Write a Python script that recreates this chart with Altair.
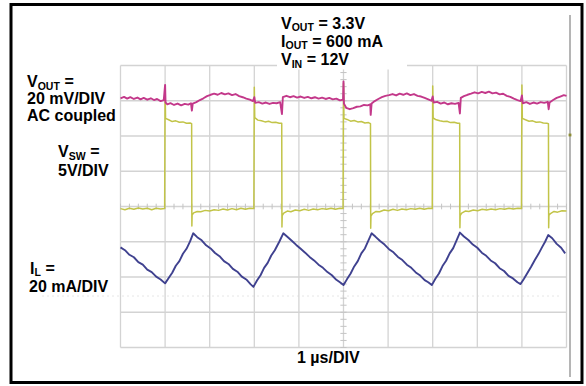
import altair as alt
import pandas as pd

# ---------------- data (scope screen: x in µs from left graticule edge, y in divisions from centre) ----
grid_time_div = [0, 1, 2, 3, 4, 5, 6, 7, 8, 9, 10]
grid_level_div = [-4, -3, -2, -1, 0, 1, 2, 3, 4]

vout_time = [0.00, 0.08, 0.15, 0.22, 0.30, 0.38, 0.45, 0.52, 0.60, 0.68, 0.75, 0.82, 0.90, 0.97,
             1.00, 1.01, 1.05, 1.12, 1.20, 1.28, 1.36, 1.44, 1.52, 1.58, 1.60, 1.62, 1.70, 1.78,
             1.86, 1.94, 2.02, 2.10, 2.18, 2.26, 2.34, 2.42, 2.50, 2.58, 2.66, 2.74, 2.82, 2.90,
             2.97, 3.00, 3.02, 3.10, 3.18, 3.26, 3.34, 3.42, 3.50, 3.58, 3.62, 3.64, 3.72, 3.80,
             3.88, 3.96, 4.04, 4.12, 4.20, 4.28, 4.36, 4.44, 4.52, 4.60, 4.68, 4.76, 4.84, 4.92,
             4.99, 5.00, 5.01, 5.06, 5.14, 5.22, 5.30, 5.38, 5.46, 5.54, 5.60, 5.61, 5.63, 5.70,
             5.78, 5.86, 5.94, 6.02, 6.10, 6.18, 6.26, 6.34, 6.42, 6.50, 6.58, 6.66, 6.74, 6.82,
             6.90, 6.97, 7.00, 7.02, 7.10, 7.18, 7.26, 7.34, 7.42, 7.50, 7.58, 7.61, 7.63, 7.70,
             7.78, 7.86, 7.94, 8.02, 8.10, 8.18, 8.26, 8.34, 8.42, 8.50, 8.58, 8.66, 8.74, 8.82,
             8.90, 8.97, 9.00, 9.02, 9.10, 9.18, 9.26, 9.34, 9.42, 9.50, 9.58, 9.60, 9.62, 9.70,
             9.78, 9.86, 9.94, 10.00]
vout_div = [3.07, 3.11, 3.06, 3.10, 3.05, 3.09, 3.04, 3.08, 3.03, 3.07, 3.02, 3.05, 2.99, 3.02,
            3.45, 2.95, 2.90, 2.93, 2.88, 2.92, 2.87, 2.91, 2.89, 2.93, 2.72, 2.92, 2.96, 3.02,
            3.07, 3.13, 3.17, 3.20, 3.17, 3.22, 3.18, 3.21, 3.16, 3.19, 3.13, 3.10, 3.06, 3.03,
            2.99, 3.10, 2.94, 2.96, 2.92, 2.95, 2.91, 2.94, 2.93, 2.96, 2.62, 3.10, 3.14, 3.10,
            3.13, 3.09, 3.12, 3.08, 3.11, 3.07, 3.10, 3.06, 3.09, 3.05, 3.08, 3.04, 3.06, 3.01,
            3.03, 3.55, 2.92, 2.80, 2.76, 2.79, 2.83, 2.84, 2.88, 2.87, 2.90, 2.60, 2.92, 2.99,
            3.05, 3.10, 3.14, 3.16, 3.19, 3.15, 3.20, 3.17, 3.21, 3.16, 3.19, 3.14, 3.12, 3.08,
            3.04, 3.00, 3.12, 2.95, 2.97, 2.92, 2.95, 2.90, 2.93, 2.91, 2.94, 2.64, 3.08, 3.13,
            3.17, 3.20, 3.24, 3.21, 3.25, 3.22, 3.26, 3.21, 3.23, 3.18, 3.20, 3.14, 3.11, 3.06,
            3.02, 2.99, 3.15, 2.93, 2.96, 2.91, 2.95, 2.92, 2.96, 2.94, 2.97, 2.76, 2.95, 3.02,
            3.08, 3.12, 3.16, 3.14]

vsw_time = [0.00, 0.10, 0.20, 0.30, 0.40, 0.50, 0.60, 0.70, 0.80, 0.90, 0.99,
            1.00, 1.01, 1.08, 1.16, 1.24, 1.32, 1.40, 1.48, 1.56, 1.595, 1.600, 1.606, 1.64, 1.72,
            1.80, 1.90, 2.00, 2.10, 2.20, 2.30, 2.40, 2.50, 2.60, 2.70, 2.80, 2.90, 2.99,
            3.00, 3.01, 3.08, 3.16, 3.24, 3.32, 3.40, 3.48, 3.56, 3.615, 3.620, 3.626, 3.66, 3.74,
            3.82, 3.92, 4.02, 4.12, 4.22, 4.32, 4.42, 4.52, 4.62, 4.72, 4.82, 4.92, 4.99,
            5.00, 5.01, 5.08, 5.16, 5.24, 5.32, 5.40, 5.48, 5.56, 5.605, 5.610, 5.616, 5.65, 5.73,
            5.81, 5.91, 6.01, 6.11, 6.21, 6.31, 6.41, 6.51, 6.61, 6.71, 6.81, 6.91, 6.99,
            7.00, 7.01, 7.08, 7.16, 7.24, 7.32, 7.40, 7.48, 7.56, 7.605, 7.610, 7.616, 7.65, 7.73,
            7.81, 7.91, 8.01, 8.11, 8.21, 8.31, 8.41, 8.51, 8.61, 8.71, 8.81, 8.91, 8.99,
            9.00, 9.01, 9.08, 9.16, 9.24, 9.32, 9.40, 9.48, 9.56, 9.595, 9.600, 9.606, 9.64, 9.72,
            9.80, 9.90, 10.00]
vsw_div = [-0.06, -0.09, -0.05, -0.08, -0.04, -0.07, -0.05, -0.09, -0.05, -0.07, -0.06,
           3.40, 2.50, 2.46, 2.41, 2.43, 2.39, 2.40, 2.36, 2.37, 2.35, -0.55, -0.24, -0.18, -0.14,
           -0.15, -0.11, -0.13, -0.09, -0.11, -0.07, -0.10, -0.06, -0.09, -0.05, -0.08, -0.05, -0.06,
           3.38, 2.52, 2.45, 2.43, 2.40, 2.42, 2.38, 2.39, 2.36, 2.36, -0.58, -0.26, -0.19, -0.13,
           -0.15, -0.10, -0.12, -0.08, -0.11, -0.07, -0.09, -0.06, -0.08, -0.05, -0.08, -0.05, -0.06,
           3.50, 2.50, 2.47, 2.42, 2.44, 2.40, 2.41, 2.37, 2.38, 2.35, -0.62, -0.27, -0.20, -0.14,
           -0.15, -0.10, -0.12, -0.08, -0.11, -0.07, -0.09, -0.06, -0.08, -0.05, -0.08, -0.05, -0.06,
           3.42, 2.51, 2.46, 2.43, 2.41, 2.42, 2.38, 2.39, 2.36, 2.36, -0.60, -0.26, -0.19, -0.13,
           -0.14, -0.10, -0.12, -0.08, -0.10, -0.07, -0.09, -0.06, -0.08, -0.05, -0.07, -0.05, -0.06,
           3.45, 2.50, 2.46, 2.42, 2.43, 2.39, 2.40, 2.37, 2.36, 2.35, -0.60, -0.25, -0.20, -0.14,
           -0.16, -0.12, -0.13]

il_time = [0.00, 0.10, 0.20, 0.30, 0.40, 0.50, 0.60, 0.70, 0.80, 0.90, 1.00,
           1.08, 1.16, 1.24, 1.32, 1.40, 1.48, 1.56, 1.63,
           1.72, 1.82, 1.92, 2.02, 2.12, 2.22, 2.32, 2.42, 2.52, 2.62, 2.72, 2.82, 2.92, 2.98,
           3.06, 3.14, 3.22, 3.30, 3.38, 3.46, 3.56, 3.65,
           3.74, 3.84, 3.94, 4.04, 4.14, 4.24, 4.34, 4.44, 4.54, 4.64, 4.74, 4.84, 4.92, 5.00,
           5.08, 5.16, 5.24, 5.32, 5.40, 5.48, 5.56, 5.63,
           5.72, 5.82, 5.92, 6.02, 6.12, 6.22, 6.32, 6.42, 6.52, 6.62, 6.72, 6.82, 6.90, 6.98,
           7.06, 7.14, 7.22, 7.30, 7.38, 7.46, 7.54, 7.61,
           7.70, 7.80, 7.90, 8.00, 8.10, 8.20, 8.30, 8.40, 8.50, 8.60, 8.70, 8.80, 8.90, 8.97,
           9.05, 9.13, 9.21, 9.29, 9.37, 9.45, 9.52, 9.59,
           9.68, 9.78, 9.88, 9.97]
il_div = [-1.16, -1.24, -1.37, -1.44, -1.58, -1.65, -1.79, -1.86, -1.99, -2.07, -2.18,
          -2.03, -1.88, -1.68, -1.55, -1.34, -1.20, -0.99, -0.76,
          -0.87, -0.96, -1.10, -1.19, -1.32, -1.41, -1.55, -1.63, -1.77, -1.85, -1.99, -2.07, -2.21, -2.28,
          -2.10, -1.95, -1.74, -1.60, -1.39, -1.24, -1.00, -0.76,
          -0.86, -0.97, -1.09, -1.20, -1.31, -1.43, -1.53, -1.65, -1.74, -1.86, -1.95, -2.08, -2.15, -2.23,
          -2.06, -1.90, -1.70, -1.55, -1.33, -1.19, -0.96, -0.76,
          -0.86, -0.98, -1.08, -1.21, -1.30, -1.43, -1.52, -1.65, -1.74, -1.87, -1.96, -2.09, -2.15, -2.23,
          -2.05, -1.90, -1.69, -1.54, -1.33, -1.18, -0.95, -0.74,
          -0.85, -0.95, -1.08, -1.17, -1.31, -1.40, -1.53, -1.61, -1.75, -1.83, -1.97, -2.04, -2.15, -2.20,
          -2.04, -1.87, -1.70, -1.52, -1.35, -1.16, -1.00, -0.81,
          -0.90, -1.06, -1.17, -1.33]

# ---------------- styling -------------------------------------------------------------
FONT = "Liberation Sans"
GRID = "#d3d3d3"
C_VOUT = "#c3388a"
C_VSW = "#c2c448"
C_IL = "#3f418f"

# canvas 586x386 mapped so that the 10x8 graticule sits where the scope screen is
xs = alt.Scale(domain=[-2.7018, 10.4372], nice=False, zero=False)
ys = alt.Scale(domain=[-5.0922, 5.8582], nice=False, zero=False)


def X(f):
    return alt.X(f, type="quantitative", scale=xs, axis=None)


def Y(f):
    return alt.Y(f, type="quantitative", scale=ys, axis=None)


one = pd.DataFrame({"k": [0]})

vgrid = alt.Chart(pd.DataFrame({"t": grid_time_div, "a": -4, "b": 4})).mark_rule(
    color=GRID, strokeWidth=1.3).encode(x=X("t"), y=Y("a"), y2="b")
hgrid = alt.Chart(pd.DataFrame({"d": grid_level_div, "a": 0, "b": 10})).mark_rule(
    color=GRID, strokeWidth=1.3).encode(y=Y("d"), x=X("a"), x2="b")

minor_levels = [round(-4 + 0.2 * i, 2) for i in range(41)]
minor_times = [round(0.2 * i, 2) for i in range(51)]
vminor = alt.Chart(pd.DataFrame({"d": minor_levels, "a": 4.93, "b": 5.07})).mark_rule(
    color="#c4c4c4", strokeWidth=1).encode(y=Y("d"), x=X("a"), x2="b")
hminor = alt.Chart(pd.DataFrame({"t": minor_times, "a": -0.08, "b": 0.08})).mark_rule(
    color="#c4c4c4", strokeWidth=1).encode(x=X("t"), y=Y("a"), y2="b")

faint = alt.Chart(one).mark_rule(color="#e6e6e6", strokeWidth=1, strokeDash=[2, 3]).encode(
    x=alt.value(42), x2=alt.value(560), y=alt.value(296))

white_box = alt.Chart(one).mark_rect(color="white").encode(
    x=alt.value(277), x2=alt.value(407), y=alt.value(7), y2=alt.value(69.5))

edge = alt.Chart(one).mark_rule(color="#9c9c9c", strokeWidth=1.5).encode(
    x=alt.value(570), y=alt.value(15), y2=alt.value(377))
marker = alt.Chart(one).mark_square(color="#8c8c34", size=8, opacity=1).encode(
    x=alt.value(570), y=alt.value(135))


def trace(t, v, color, w):
    df = pd.DataFrame({"t": t, "v": v, "i": list(range(len(t)))})
    return alt.Chart(df).mark_line(color=color, strokeWidth=w, strokeJoin="round").encode(
        x=X("t"), y=Y("v"), order=alt.Order("i:Q"))


vsw_line = trace(vsw_time, vsw_div, C_VSW, 1.5)
vout_line = trace(vout_time, vout_div, C_VOUT, 1.9)
il_line = trace(il_time, il_div, C_IL, 1.9)


def label(txt, x, y, size=16):
    return alt.Chart(pd.DataFrame({"s": [txt]})).mark_text(
        align="left", baseline="alphabetic", font=FONT, fontWeight="bold",
        fontSize=size, color="black").encode(x=alt.value(x), y=alt.value(y), text="s:N")


SUB = 10.5
SUBDY = 2.5
SP = 4.45  # width of a 16px bold space
texts = [
    # top conditions block
    label("V", 281, 28.5), label("OUT", 291.7, 28.5 + SUBDY, SUB), label("= 3.3V", 314.0 + SP, 28.5),
    label("I", 281, 46.5), label("OUT", 285.5, 46.5 + SUBDY, SUB), label("= 600 mA", 307.8 + SP, 46.5),
    label("V", 281, 65), label("IN", 291.7, 65 + SUBDY, SUB), label("= 12V", 302.3 + SP, 65),
    # VOUT label
    label("V", 27, 87), label("OUT", 37.7, 87 + SUBDY, SUB), label("=", 60.0 + SP, 87),
    label("20 mV/DIV", 27, 104), label("AC coupled", 27, 121),
    # VSW label
    label("V", 58, 157), label("SW", 68.7, 157 + SUBDY, SUB), label("=", 85.8 + SP, 157),
    label("5V/DIV", 58, 175.5),
    # IL label
    label("I", 30, 273.5), label("L", 34.5, 273.5 + SUBDY, SUB), label("=", 41.0 + SP, 273.5),
    label("20 mA/DIV", 29, 292),
    # time base
    label("1 µs/DIV", 297, 363),
]

border = alt.Chart(one).mark_rect(fillOpacity=0, stroke="black", strokeWidth=3).encode(
    x=alt.value(11), x2=alt.value(582), y=alt.value(4.5), y2=alt.value(382.5))

chart = alt.layer(
    faint, vgrid, hgrid, vminor, hminor, white_box, edge, marker,
    vsw_line, vout_line, il_line, *texts, border
).properties(
    width=586, height=386, padding=0,
    autosize=alt.AutoSizeParams(type="none"),
    background="white",
).configure_view(stroke="transparent")

chart.save("out.html", embed_options={"renderer": "svg", "actions": False})
